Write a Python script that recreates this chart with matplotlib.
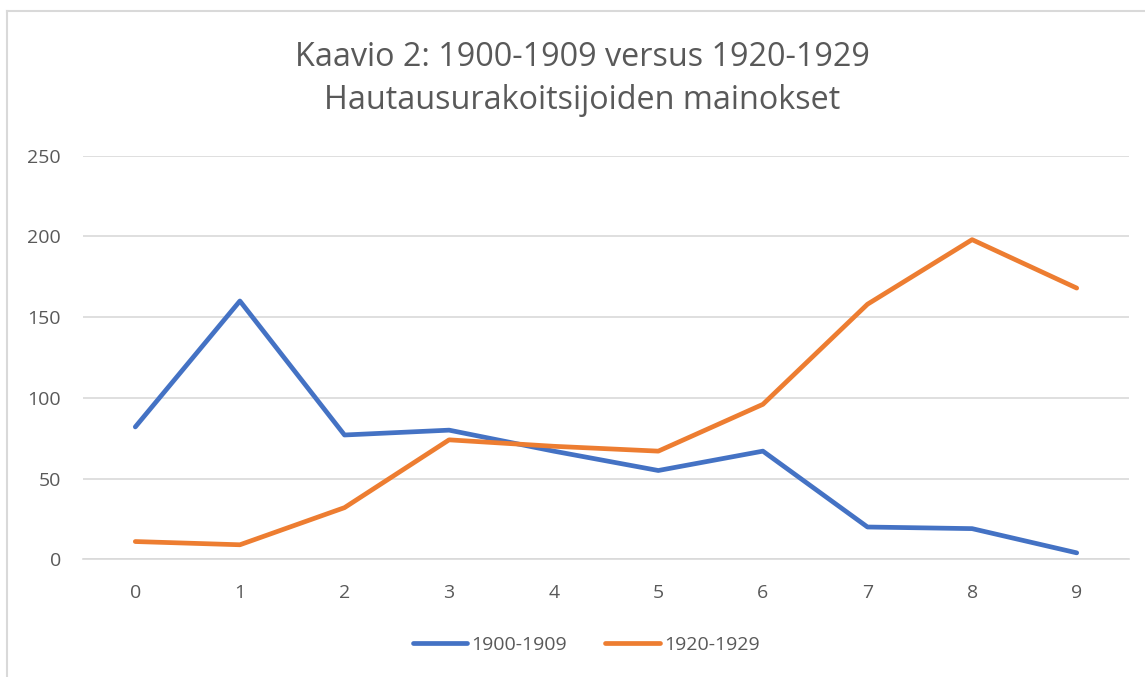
import matplotlib
matplotlib.use("Agg")
import matplotlib.pyplot as plt
from matplotlib.lines import Line2D

categories = [0, 1, 2, 3, 4, 5, 6, 7, 8, 9]
series_1900 = [82, 160, 77, 80, 67, 55, 67, 20, 19, 4]
series_1920 = [11, 9, 32, 74, 70, 67, 96, 158, 198, 168]
yticks = [0, 50, 100, 150, 200, 250]
title = "Kaavio 2: 1900-1909 versus 1920-1929\nHautausurakoitsijoiden mainokset"

plt.rcParams['font.family'] = ['Open Sans', 'DejaVu Sans']
W, H = 1145, 677
fig = plt.figure(figsize=(W / 100, H / 100), dpi=100)
ax = fig.add_axes([83 / W, 1 - 559.3 / H, (1129 - 83) / W, (559.3 - 155.7) / H])

text_col = '#595959'
ax.plot(categories, series_1900, color='#4472C4', lw=3.4, solid_capstyle='round', solid_joinstyle='round', label='1900-1909')
ax.plot(categories, series_1920, color='#ED7D31', lw=3.4, solid_capstyle='round', solid_joinstyle='round', label='1920-1929')

ax.set_xlim(-0.5, 9.5)
ax.set_ylim(0, 250)
ax.set_yticks(yticks)
ax.set_xticks(categories)
ax.set_xticklabels([str(c) for c in categories])
ax.grid(axis='y', color='#D9D9D9', lw=1.2)
ax.set_axisbelow(True)
for s in ['top', 'right', 'left']:
    ax.spines[s].set_visible(False)
ax.spines['bottom'].set_color('#D9D9D9')
ax.spines['bottom'].set_linewidth(1.2)
ax.tick_params(axis='both', length=0, colors=text_col, labelsize=14)
ax.tick_params(axis='y', pad=16)
ax.tick_params(axis='x', pad=18)

fig.text(582 / W, 1 - 79 / H, title, ha='center', va='center', fontsize=23.3,
         color=text_col, linespacing=1.38)

handles = [Line2D([0], [0], color='#4472C4', lw=3.4, solid_capstyle='round'),
           Line2D([0], [0], color='#ED7D31', lw=3.4, solid_capstyle='round')]
fig.legend(handles, ['1900-1909', '1920-1929'], loc='center', bbox_to_anchor=(586 / W, 1 - 645 / H),
           ncol=2, frameon=False, fontsize=14, labelcolor=text_col, handlelength=2.8,
           handletextpad=0.2, columnspacing=2.0)

# outer border (partial, as in screenshot)
fig.add_artist(Line2D([7 / W, 7 / W], [0, 1 - 11 / H], color='#D9D9D9', lw=1.5, transform=fig.transFigure))
fig.add_artist(Line2D([7 / W, 1], [1 - 11 / H, 1 - 11 / H], color='#D9D9D9', lw=1.5, transform=fig.transFigure))

fig.savefig('out.png', dpi=100)
